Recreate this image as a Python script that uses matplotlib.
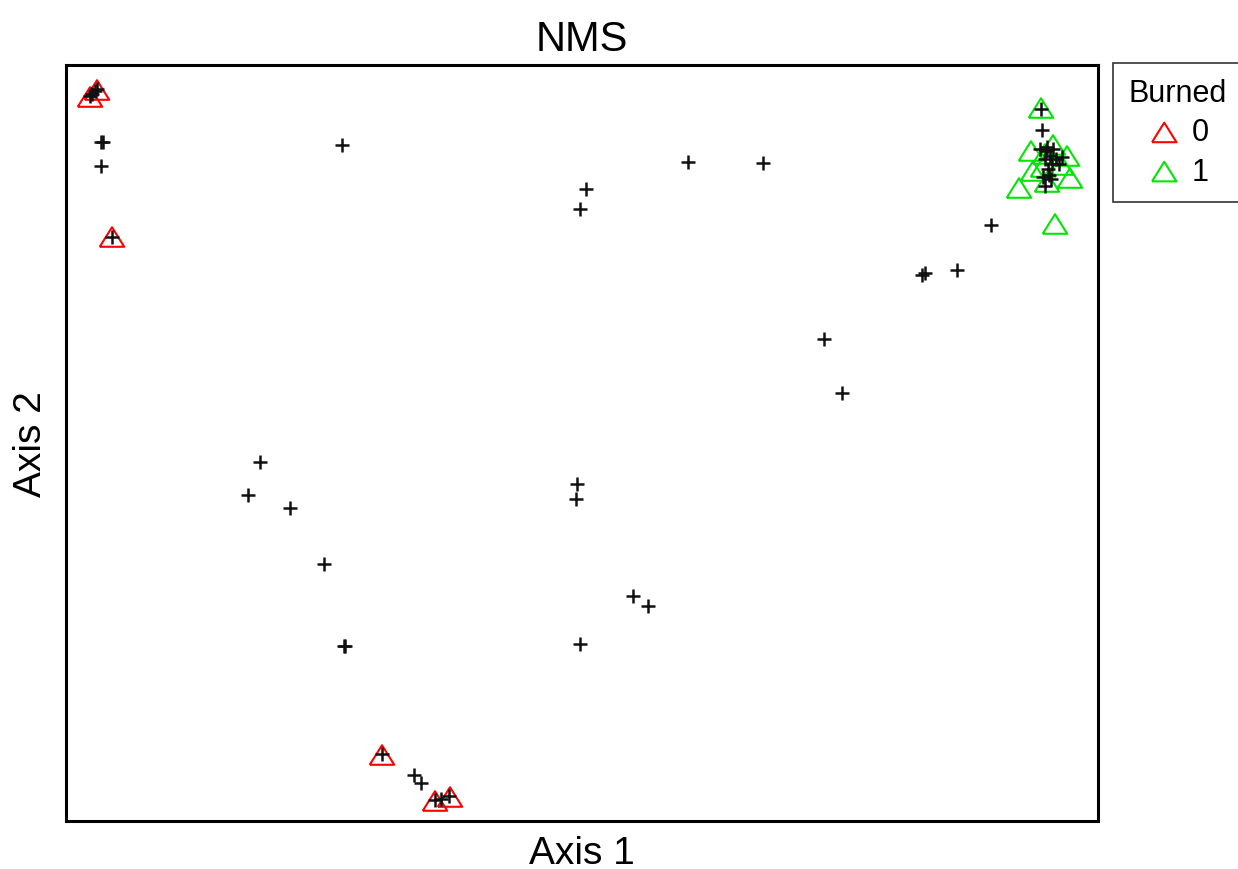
import matplotlib
matplotlib.use('Agg')
import matplotlib.pyplot as plt
import numpy as np

plt.rcParams['font.family'] = ['Liberation Sans', 'DejaVu Sans']

# NMS ordination scores (arbitrary axis units)
cross_x = [26, 29, 31, 24, 35, 37, 35, 46, 276, 514, 520, 622, 697, 925, 856, 859, 891,
           758, 776, 194, 182, 224, 511, 510, 258, 279, 278, 567, 582, 514, 316, 348, 355,
           369, 375, 383,
           975, 976, 974, 980, 984, 979, 986, 990, 982, 977, 983, 979, 993, 987, 996, 981, 985]
cross_y = [727, 730, 732, 725, 679, 679, 655, 584, 676, 612, 632, 659, 658, 596, 546, 548, 551,
           482, 428, 359, 326, 313, 337, 322, 257, 175, 175, 225, 215, 177, 67, 46, 38,
           21, 22, 25,
           712, 691, 672, 670, 665, 662, 657, 662, 652, 644, 646, 635, 657, 672, 664, 674, 642]

burned0_x = [24, 31, 46, 316, 369, 384]
burned0_y = [724, 731, 584, 66, 20, 24]

burned1_x = [975, 965, 979, 987, 1001, 995, 967, 1004, 953, 981, 989, 977]
burned1_y = [713, 670, 667, 676, 665, 656, 650, 643, 633, 639, 597, 654]

tri = [(-1, -0.8), (1, -0.8), (0, 0.8), (-1, -0.8)]

fig = plt.figure(figsize=(12.38, 8.7), dpi=100)
ax = fig.add_axes([66 / 1238, 48 / 870, 1032 / 1238, 756 / 870])

ax.scatter(cross_x, cross_y, marker='+', s=110, color='#111111', linewidths=1.8, zorder=3)
h0 = ax.scatter(burned0_x, burned0_y, marker=tri, s=310, facecolors='none',
                edgecolors='#ff0000', linewidths=1.5, zorder=2, label='0')
h1 = ax.scatter(burned1_x, burned1_y, marker=tri, s=310, facecolors='none',
                edgecolors='#00e600', linewidths=1.5, zorder=2, label='1')

ax.set_xlim(0, 1032)
ax.set_ylim(0, 756)
ax.set_xticks([])
ax.set_yticks([])
for sp in ax.spines.values():
    sp.set_linewidth(2.2)

ax.set_title('NMS', fontsize=30, pad=11)
ax.set_xlabel('Axis 1', fontsize=28, labelpad=10)
ax.set_ylabel('Axis 2', fontsize=28, labelpad=12)

leg = fig.legend(handles=[h0, h1], labels=['0', '1'], title='Burned',
                 loc='upper left', bbox_to_anchor=(1113 / 1238, 1 - 64 / 870),
                 borderaxespad=0, fontsize=22, title_fontsize=22, frameon=True,
                 fancybox=False, edgecolor='black', handletextpad=0.3, borderpad=0.5,
                 labelspacing=0.3, markerscale=1.0, handlelength=1.2)
leg.get_frame().set_linewidth(1.2)

fig.savefig('out.png', dpi=100, facecolor='white')
